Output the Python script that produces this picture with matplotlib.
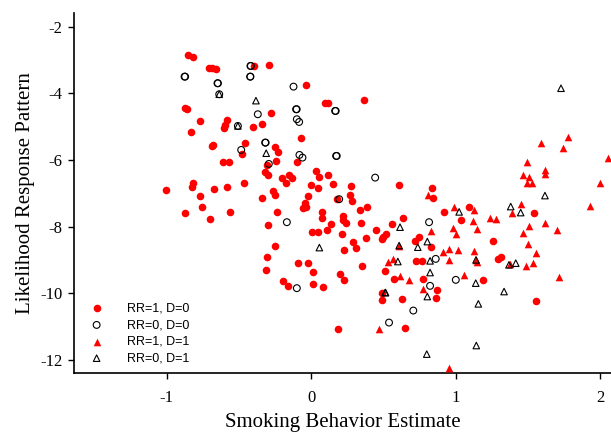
import matplotlib

matplotlib.use("Agg")

import matplotlib.pyplot as plt  # noqa: E402

plt.rcParams["axes.unicode_minus"] = False

# RR=1, D=0 (filled red circles)
rr1_d0_x = [-0.849, -0.818, -0.710, -0.687, -0.659, -0.392, -0.295, -0.871, -0.860, -0.772,
            -0.583, -0.595, -0.602, -0.830, -0.399, -0.337, -0.277, -0.676, -0.687, -0.456,
            -0.479, -0.607, -0.565, -0.306, -0.318, -0.299, -0.818, -0.825, -1.005, -0.669,
            -0.579, -0.468, -0.768, -0.339, -0.035, 0.097, 0.120, 0.367, -0.071, -0.249,
            -0.226, -0.244, -0.095, 0.033, 0.057, 0.120, -0.203, -0.175, -0.150, -0.133,
            0.000, 0.050, 0.154, 0.277, 0.609, 0.839, -0.261, -0.249, -0.019, 0.182,
            0.270, 0.842, -0.871, -0.752, -0.701, -0.560, -0.299, -0.306, -0.311, 0.281,
            -0.041, -0.053, -0.035, -0.237, 0.074, 0.074, 0.223, 0.223, 0.242, 0.339,
            0.389, 0.138, 0.109, 0.005, 0.050, 0.212, 0.346, 0.450, 0.500, 0.519,
            0.489, 0.562, 0.636, 0.378, 0.293, 0.311, 0.228, -0.249, -0.092, -0.019,
            0.016, 0.351, 0.201, 0.230, -0.198, -0.161, 0.014, 0.081, 0.512, 0.576,
            0.493, 0.489, 0.631, 0.650, 0.187, 0.719, 0.749, 0.724, 0.766, 0.777,
            0.869, 0.864, 0.922, 0.830, 1.093, 1.035, 1.261, 1.295, 1.314, 1.192,
            1.544, 1.556]
rr1_d0_y = [-2.849, -2.900, -3.247, -3.247, -3.268, -3.178, -3.148, -4.447, -4.468, -4.828,
            -4.798, -4.948, -5.028, -5.166, -5.016, -4.927, -4.597, -5.547, -5.568, -5.496,
            -5.817, -6.066, -6.057, -6.147, -6.366, -6.447, -6.696, -6.798, -6.897, -6.876,
            -6.798, -6.696, -7.076, -7.145, -3.748, -4.297, -4.297, -4.198, -5.337, -5.616,
            -5.748, -6.018, -6.066, -6.318, -6.516, -6.447, -6.546, -6.696, -6.447, -6.528,
            -6.747, -6.828, -6.717, -6.777, -6.747, -6.828, -6.927, -7.046, -7.067, -7.166,
            -7.046, -7.127, -7.595, -7.415, -7.775, -7.547, -7.946, -8.914, -9.295, -7.217,
            -7.295, -7.445, -7.397, -7.565, -7.565, -7.745, -7.676, -7.796, -7.895, -7.496,
            -7.415, -7.916, -8.096, -8.147, -8.165, -8.225, -7.895, -8.096, -8.297, -8.225,
            -8.375, -7.925, -7.745, -8.345, -8.465, -8.645, -8.696, -8.567, -9.076, -9.094,
            -9.346, -9.166, -9.415, -9.595, -9.616, -9.775, -9.724, -9.814, -9.316, -9.556,
            -9.976, -10.195, -10.165, -11.025, -11.064, -8.426, -8.297, -9.025, -9.025, -9.574,
            -9.895, -10.144, -7.556, -8.597, -7.397, -7.796, -8.426, -8.966, -8.915, -9.595,
            -7.595, -10.225]

# RR=0, D=0 (open circles)
rr0_d0_x = [-0.876, -0.872, -0.648, -0.645, -0.420, -0.417, -0.422, -0.420, -0.369, -0.484,
            -0.318, -0.315, -0.293, -0.122, -0.104, -0.100, 0.166, 0.170, -0.099, -0.083,
            -0.081, -0.060, 0.173, 0.177, 0.443, 0.194, -0.168, -0.099, 0.816, 0.862,
            0.823, 0.707, 0.539, 1.001, -0.636, -0.507]
rr0_d0_y = [-3.499, -3.499, -3.697, -3.697, -3.178, -3.178, -3.499, -3.499, -4.627, -5.697,
            -5.478, -5.478, -6.117, -3.799, -4.477, -4.477, -4.528, -4.528, -4.777, -4.858,
            -5.847, -5.928, -5.877, -5.877, -6.528, -7.175, -7.865, -9.844, -7.865, -8.966,
            -9.775, -10.516, -10.876, -9.595, -4.027, -4.978]

# RR=1, D=1 (filled red triangles)
rr1_d1_x = [0.811, 1.779, 1.589, 1.741, 2.056, 1.492, 1.618, 1.618, 1.468, 1.510,
            1.492, 1.526, 1.999, 0.830, 0.911, 0.535, 0.569, 0.615, 0.678, 0.772,
            0.470, 0.954, 0.956, 0.989, 1.129, 1.122, 0.980, 1.003, 1.146, 1.238,
            1.277, 1.450, 1.392, 1.929, 1.508, 1.618, 1.703, 1.464, 1.499, 1.556,
            0.956, 1.019, 1.127, 1.141, 1.146, 1.376, 1.487, 1.537, 1.717, 1.060,
            0.609]
rr1_d1_y = [-7.046, -5.298, -5.496, -5.646, -5.928, -6.048, -6.297, -6.426, -6.438, -6.498,
            -6.696, -6.696, -6.696, -8.126, -8.765, -9.064, -8.975, -9.475, -9.595, -9.874,
            -11.073, -12.243, -8.996, -7.415, -7.496, -7.817, -8.045, -8.225, -8.075, -7.727,
            -7.766, -7.316, -7.577, -7.376, -7.976, -7.877, -8.096, -8.177, -8.516, -8.777,
            -8.666, -8.696, -8.735, -8.996, -9.055, -9.115, -9.175, -9.094, -9.496, -9.445,
            -8.567]

# RR=0, D=1 (open triangles)
rr0_d1_x = [-0.636, -0.382, -0.507, -0.311, 1.729, 1.618, 0.057, 0.615, 0.609, 0.738,
            0.804, 0.600, 0.823, 0.823, 0.512, 0.515, 0.804, 0.800, 1.381, 1.450,
            1.024, 1.141, 1.369, 1.416, 1.139, 1.335, 1.157, 1.143]
rr0_d1_y = [-4.027, -4.219, -4.978, -5.796, -3.847, -7.067, -8.627, -8.015, -8.567, -8.615,
            -8.447, -9.046, -9.025, -9.376, -9.976, -9.976, -10.096, -11.823, -7.397, -7.577,
            -7.556, -8.996, -9.145, -9.094, -9.694, -9.946, -10.315, -11.565]

serif = ["Liberation Serif", "DejaVu Serif"]

fig = plt.figure(figsize=(6.11, 4.32), dpi=100)
ax = fig.add_axes([74 / 611, 59.3 / 432, 537 / 611, 359.7 / 432])

ax.scatter(rr1_d0_x, rr1_d0_y, s=30, marker="o", color="#ff0000",
           linewidths=0, label="RR=1, D=0", zorder=3)
ax.scatter(rr0_d0_x, rr0_d0_y, s=24, marker="o", facecolors="none",
           edgecolors="black", linewidths=0.8, label="RR=0, D=0", zorder=4)
ax.scatter(rr1_d1_x, rr1_d1_y, s=30, marker="^", color="#ff0000",
           linewidths=0, label="RR=1, D=1", zorder=3)
ax.scatter(rr0_d1_x, rr0_d1_y, s=22, marker="^", facecolors="none",
           edgecolors="black", linewidths=0.8, label="RR=0, D=1", zorder=4)

ax.set_xlim(-1.641, 2.075)
ax.set_ylim(-12.38, -1.59)
ax.set_xticks([-1, 0, 1, 2])
ax.set_yticks([-2, -4, -6, -8, -10, -12])
ax.spines["top"].set_visible(False)
ax.spines["right"].set_visible(False)
for sp in ("left", "bottom"):
    ax.spines[sp].set_linewidth(1.2)
ax.tick_params(direction="out", length=4.3, width=1, labelsize=12)
ax.tick_params(axis="x", pad=8.5)
ax.tick_params(axis="y", pad=4)
for lab in ax.get_xticklabels() + ax.get_yticklabels():
    lab.set_family(serif)

ax.set_xlabel("Smoking Behavior Estimate", family=serif, fontsize=15, labelpad=5)
ax.set_ylabel("Likelihood Response Pattern", family=serif, fontsize=15, labelpad=4)

ax.legend(loc="lower left", frameon=False, prop={"family": "Liberation Sans", "size": 9},
          handlelength=2.3, handletextpad=1.3, labelspacing=0.37, borderaxespad=0.26)

fig.savefig("out.png", dpi=100)
